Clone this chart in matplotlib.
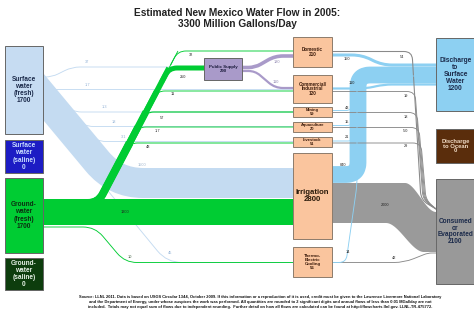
import numpy as np
import matplotlib
matplotlib.use("Agg")
import matplotlib.pyplot as plt
from matplotlib.path import Path
from matplotlib.patches import PathPatch, Rectangle, Polygon

plt.rcParams['font.family'] = ['Liberation Sans', 'DejaVu Sans']

# ---------------- data ----------------
title = "Estimated New Mexico Water Flow in 2005:\n3300 Million Gallons/Day"

sources = ["Surface water (fresh)", "Surface water (saline)", "Ground-water (fresh)", "Ground-water (saline)"]
source_vals = [1700, 0, 1700, 0]
uses = ["Public Supply", "Domestic", "Commercial/Industrial", "Mining", "Aquaculture",
        "Livestock", "Irrigation", "Thermo-Electric Cooling"]
use_vals = [290, 210, 120, 59, 20, 51, 2800, 56]
sinks = ["Discharge to Surface Water", "Discharge to Ocean", "Consumed or Evaporated"]
sink_vals = [1200, 0, 2100]

sw_targets = ["Public Supply", "Commercial/Industrial", "Mining", "Aquaculture", "Livestock",
              "Irrigation", "Thermo-Electric Cooling"]
sw_vals = [37, 1.7, 1.3, 18, 3.1, 1500, 45]
gw_targets = ["Domestic", "Public Supply", "Commercial/Industrial", "Mining", "Aquaculture",
              "Livestock", "Irrigation", "Thermo-Electric Cooling"]
gw_vals = [32, 250, 11, 57, 1.7, 48, 1300, 10]
ps_targets = ["Domestic", "Commercial/Industrial"]
ps_vals = [180, 110]
out_sources = ["Domestic", "Commercial/Industrial", "Mining", "Aquaculture", "Livestock",
               "Irrigation", "Thermo-Electric Cooling"]
discharge_vals = [150, 110, 43, 15, 21, 840, 14]
consumed_vals = [54, 19, 18, 5.0, 29, 2000, 42]

footnote = ("Source: LLNL 2011. Data is based on USGS Circular 1344, October 2009. If this information or a reproduction of it is used, credit must be given to the Lawrence Livermore National Laboratory\n"
            "and the Department of Energy, under whose auspices the work was performed. All quantities are rounded to 2 significant digits and annual flows of less than 0.01 MGal/day are not\n"
            "included.  Totals may not equal sum of flows due to independent rounding.  Further detail on how all flows are calculated can be found at http://flowcharts.llnl.gov. LLNL-TR-475772.")

# ---------------- layout / style ----------------
DPI = 100
W, H = 474, 316
S = 0.02      # px per Mgal/day
MINW = 0.9

C_SW = '#c4dbf1'
C_GW = '#00cc33'
C_PS = '#a99ac9'
C_DIS = '#8dd0f2'
C_CON = '#9a9a9a'
C_CONL = '#8a8a8a'

box = {
    "Surface water (fresh)": (5, 46, 38, 88),
    "Surface water (saline)": (5, 140, 38, 33),
    "Ground-water (fresh)": (5, 178, 38, 75),
    "Ground-water (saline)": (5, 258, 38, 32),
    "Public Supply": (204, 58, 38, 22),
    "Domestic": (293, 37, 39, 30),
    "Commercial/Industrial": (293, 75, 39, 28),
    "Mining": (293, 107, 39, 10),
    "Aquaculture": (293, 122, 39, 9.5),
    "Livestock": (293, 137, 39, 10),
    "Irrigation": (293, 153, 39, 86),
    "Thermo-Electric Cooling": (293, 247, 39, 30),
    "Discharge to Surface Water": (436, 38, 42, 73),
    "Discharge to Ocean": (436, 129, 42, 34),
    "Consumed or Evaporated": (436, 179, 42, 105),
}
box_fill = {
    "Surface water (fresh)": '#c6dcf2', "Surface water (saline)": '#1c1cc4',
    "Ground-water (fresh)": '#00cc33', "Ground-water (saline)": '#0d3d0d',
    "Public Supply": C_PS, "Discharge to Surface Water": C_DIS,
    "Discharge to Ocean": '#5a2d0c', "Consumed or Evaporated": '#999999',
}
box_label = {
    "Surface water (fresh)": ("Surface\nwater\n(fresh)", '#1b2a4a', 4.7, 1.05),
    "Surface water (saline)": ("Surface\nwater\n(saline)", '#c8dcff', 4.7, 1.05),
    "Ground-water (fresh)": ("Ground-\nwater\n(fresh)", '#0b2e10', 4.7, 1.05),
    "Ground-water (saline)": ("Ground-\nwater\n(saline)", '#e6f2e6', 4.7, 1.05),
    "Public Supply": ("Public Supply", '#1a1a3a', 3.2, 1.0),
    "Domestic": ("Domestic", '#3a1a0a', 3.3, 0.95),
    "Commercial/Industrial": ("Commercial/\nIndustrial", '#3a1a0a', 3.3, 0.95),
    "Mining": ("Mining", '#3a1a0a', 2.9, 0.85),
    "Aquaculture": ("Aquaculture", '#3a1a0a', 2.9, 0.85),
    "Livestock": ("Livestock", '#3a1a0a', 2.9, 0.85),
    "Irrigation": ("Irrigation", '#2a1a0a', 5.6, 1.05),
    "Thermo-Electric Cooling": ("Thermo-\nElectric\nCooling", '#3a1a0a', 3.2, 0.95),
    "Discharge to Surface Water": ("Discharge\nto\nSurface\nWater", '#1b2a4a', 4.8, 1.0),
    "Discharge to Ocean": ("Discharge\nto Ocean", '#f2dcc6', 4.2, 1.0),
    "Consumed or Evaporated": ("Consumed\nor\nEvaporated", '#1b2a4a', 4.7, 0.95),
}
node_vals = dict(zip(sources + uses + sinks, source_vals + use_vals + sink_vals))

fig = plt.figure(figsize=(W / DPI, H / DPI), dpi=DPI)
ax = fig.add_axes([0, 0, 1, 1])
ax.set_xlim(0, W)
ax.set_ylim(H, 0)
ax.axis('off')


def width(v):
    return max(v * S, MINW)


def rpath(pts, r):
    pts = [np.array(p, float) for p in pts]
    verts = [tuple(pts[0])]
    codes = [Path.MOVETO]
    for i in range(1, len(pts) - 1):
        p0, p1, p2 = pts[i - 1], pts[i], pts[i + 1]
        d1 = p1 - p0
        d2 = p2 - p1
        l1 = np.hypot(*d1)
        l2 = np.hypot(*d2)
        rr = min(r, l1 / 2, l2 / 2)
        a = p1 - d1 / l1 * rr
        b = p1 + d2 / l2 * rr
        verts += [tuple(a), tuple(p1), tuple(b)]
        codes += [Path.LINETO, Path.CURVE3, Path.CURVE3]
    verts.append(tuple(pts[-1]))
    codes.append(Path.LINETO)
    return Path(verts, codes)


def stroke(pts, v, color, r=8, z=1, w=None):
    px = width(v) if w is None else w
    ax.add_patch(PathPatch(rpath(pts, r), fill=False, edgecolor=color,
                           lw=px * 72 / DPI, capstyle='butt', joinstyle='round', zorder=z))


def smooth_edge(keys, xs):
    kx = np.array([k[0] for k in keys], float)
    ky = np.array([k[1] for k in keys], float)
    ys = np.empty_like(xs)
    for i, x in enumerate(xs):
        j = int(np.clip(np.searchsorted(kx, x) - 1, 0, len(kx) - 2))
        t = np.clip((x - kx[j]) / (kx[j + 1] - kx[j]), 0, 1)
        ys[i] = ky[j] + (ky[j + 1] - ky[j]) * t * t * (3 - 2 * t)
    return ys


def flabel(x, y, v, color='#222222', size=2.8):
    s = f"{v:.1f}" if v < 10 else f"{v:g}"
    ax.text(x, y, s, ha='center', va='center', fontsize=size, color=color, zorder=12)


def lx(name):
    return box[name][0]


def rx(name):
    return box[name][0] + box[name][2]


# ---------------- surface water (fresh) flows ----------------
sw = dict(zip(sw_targets, sw_vals))
stroke([(25, 74.8), (115.2, 183), (lx("Irrigation"), 183)], sw["Irrigation"], C_SW, r=28, z=1)
stroke([(38, 77), (52, 77), (72, 67), (lx("Public Supply"), 67)], sw["Public Supply"], C_SW, r=8, z=1)
stroke([(38, 89), (lx("Commercial/Industrial"), 89)], sw["Commercial/Industrial"], C_SW, z=1)
for name, yt in [("Mining", 112), ("Aquaculture", 126.5), ("Livestock", 141.5)]:
    stroke([(43, 78), (43 + (yt - 78) / 1.2, yt), (lx(name), yt)], sw[name], C_SW, r=10, z=1)
stroke([(43, 112), (167, 262.5), (lx("Thermo-Electric Cooling"), 262.5)],
       sw["Thermo-Electric Cooling"], C_SW, r=15, z=1)

C_SWT = '#8fb0d5'
flabel(87, 62, sw["Public Supply"], C_SWT)
flabel(87, 85, sw["Commercial/Industrial"], C_SWT)
flabel(104, 107, sw["Mining"], C_SWT)
flabel(114, 122, sw["Aquaculture"], C_SWT)
flabel(124, 137, sw["Livestock"], C_SWT)
flabel(142, 165, sw["Irrigation"], '#9fb5cc')
flabel(170, 253, sw["Thermo-Electric Cooling"], C_SWT)

# ---------------- ground water (fresh) flows ----------------
gw = dict(zip(gw_targets, gw_vals))
stroke([(43, 211.5), (lx("Irrigation"), 211.5)], gw["Irrigation"], C_GW, z=2)
stroke([(43, 227), (95, 227), (125, 262.5), (lx("Thermo-Electric Cooling"), 262.5)],
       gw["Thermo-Electric Cooling"], C_GW, r=12, z=2)


def x_t(y):
    return 98 + (203 - y) * 0.526


branches = [("Domestic", 51), ("Public Supply", 68), ("Commercial/Industrial", 91),
            ("Mining", 112), ("Aquaculture", 127), ("Livestock", 143)]
for name, yk in branches:
    cum = sum(gw[n] for n, yy in branches if yy <= yk)
    stroke([(43, 203), (98, 203), (x_t(yk), yk)], 0, C_GW, r=10, z=2, w=max(cum * S, MINW))
for name, yk in branches:
    stroke([(x_t(yk + 14), yk + 14), (x_t(yk), yk), (lx(name), yk)], gw[name], C_GW, r=9, z=2)

flabel(191, 55, gw["Domestic"])
flabel(183, 77, gw["Public Supply"])
flabel(173, 94, gw["Commercial/Industrial"])
flabel(162, 118, gw["Mining"])
flabel(157, 131, gw["Aquaculture"])
flabel(148, 147, gw["Livestock"])
flabel(125, 212, gw["Irrigation"])
flabel(130, 257, gw["Thermo-Electric Cooling"], '#3a5a3a')

# ---------------- public supply flows ----------------
ps = dict(zip(ps_targets, ps_vals))
stroke([(rx("Public Supply"), 67.5), (255, 67.5), (275, 56), (lx("Domestic"), 56)], ps["Domestic"], C_PS, r=8, z=3)
stroke([(rx("Public Supply"), 71), (255, 71), (275, 88), (lx("Commercial/Industrial"), 88)],
       ps["Commercial/Industrial"], C_PS, r=8, z=3)
flabel(277, 62, ps["Domestic"], '#8f86b0')
flabel(276, 82, ps["Commercial/Industrial"], '#8f86b0')

# ---------------- discharge flows ----------------
dis = dict(zip(out_sources, discharge_vals))
DX = lx("Discharge to Surface Water")
stroke([(332, 55), (362, 55), (382, 65), (DX, 65)], dis["Domestic"], C_DIS, r=10, z=4)
stroke([(332, 174.5), (358, 174.5), (358, 75), (DX, 75)], dis["Irrigation"], C_DIS, r=12, z=4)
stroke([(332, 88.5), (366, 88.5), (384, 84.5), (DX, 84.5)], dis["Commercial/Industrial"], C_DIS, r=8, z=4)
for name, yy, xv in [("Mining", 110.5, 352), ("Aquaculture", 125.5, 353), ("Livestock", 141, 354)]:
    stroke([(332, yy), (xv, yy), (xv, 76), (DX, 76)], dis[name], C_DIS, r=6, z=4)
stroke([(332, 262.5), (346, 262.5), (357, 185), (357, 76), (DX, 76)],
       dis["Thermo-Electric Cooling"], C_DIS, r=8, z=6)

flabel(347, 59, dis["Domestic"])
flabel(352, 83, dis["Commercial/Industrial"])
flabel(347, 108, dis["Mining"])
flabel(347, 122, dis["Aquaculture"])
flabel(347, 137, dis["Livestock"])
flabel(343, 165, dis["Irrigation"])
flabel(348, 252, dis["Thermo-Electric Cooling"])

# ---------------- consumed flows ----------------
con = dict(zip(out_sources, consumed_vals))
g_w = width(con["Irrigation"])
c0, c1 = 203, 232
xs = np.linspace(332, lx("Consumed or Evaporated"), 300)
top = smooth_edge([(332, c0 - g_w / 2), (405, c0 - g_w / 2), (436, c1 - g_w / 2)], xs)
bot = smooth_edge([(332, c0 + g_w / 2), (386, c0 + g_w / 2), (424, c1 + g_w / 2), (436, c1 + g_w / 2)], xs)
poly = np.vstack([np.column_stack([xs, top]), np.column_stack([xs[::-1], bot[::-1]])])
ax.add_patch(Polygon(poly, closed=True, facecolor=C_CON, edgecolor='none', zorder=5))

CX = lx("Consumed or Evaporated")
for name, yy, xa, xb in [("Domestic", 51.5, 412, 421), ("Commercial/Industrial", 91.5, 415, 423),
                         ("Mining", 112.5, 417, 424), ("Aquaculture", 127.5, 419, 425),
                         ("Livestock", 143, 421, 426)]:
    stroke([(332, yy), (xa, yy), (xb, 200), (CX, 209)], con[name], C_CONL, r=8, z=5)
stroke([(332, 262.5), (404, 262.5), (428, 253), (CX, 253)], con["Thermo-Electric Cooling"], C_CONL, r=10, z=5)

flabel(402, 57, con["Domestic"])
flabel(406, 96, con["Commercial/Industrial"])
flabel(406, 117, con["Mining"])
flabel(406, 131, con["Aquaculture"])
flabel(406, 146, con["Livestock"])
flabel(385, 205, con["Irrigation"])
flabel(394, 258, con["Thermo-Electric Cooling"])

# ---------------- boxes ----------------
for name, (x, y, w, h) in box.items():
    fc = box_fill.get(name, '#fac59e')
    ec = '#8c7b6b' if name in uses and name != "Public Supply" else '#666666'
    ax.add_patch(Rectangle((x, y), w, h, facecolor=fc, edgecolor=ec, lw=0.7, zorder=10))
    txt, col, fs, ls = box_label[name]
    val = node_vals[name]
    cx = x + w / 2 if x + w < W else x + 19.5
    ax.text(cx, y + h / 2, f"{txt}\n{val:g}",
            ha='center', va='center', fontsize=fs, color=col, fontweight='bold',
            linespacing=ls, zorder=11)

# ---------------- titles ----------------
ax.text(237, 18.5, title, ha='center', va='center', fontsize=7.3, fontweight='bold',
        color='#222222', linespacing=1.05, zorder=12)
ax.text(260, 302, footnote, ha='center', va='center', fontsize=2.85, fontweight='bold',
        color='#111111', linespacing=1.2, zorder=12)

fig.savefig("out.png", dpi=DPI)
